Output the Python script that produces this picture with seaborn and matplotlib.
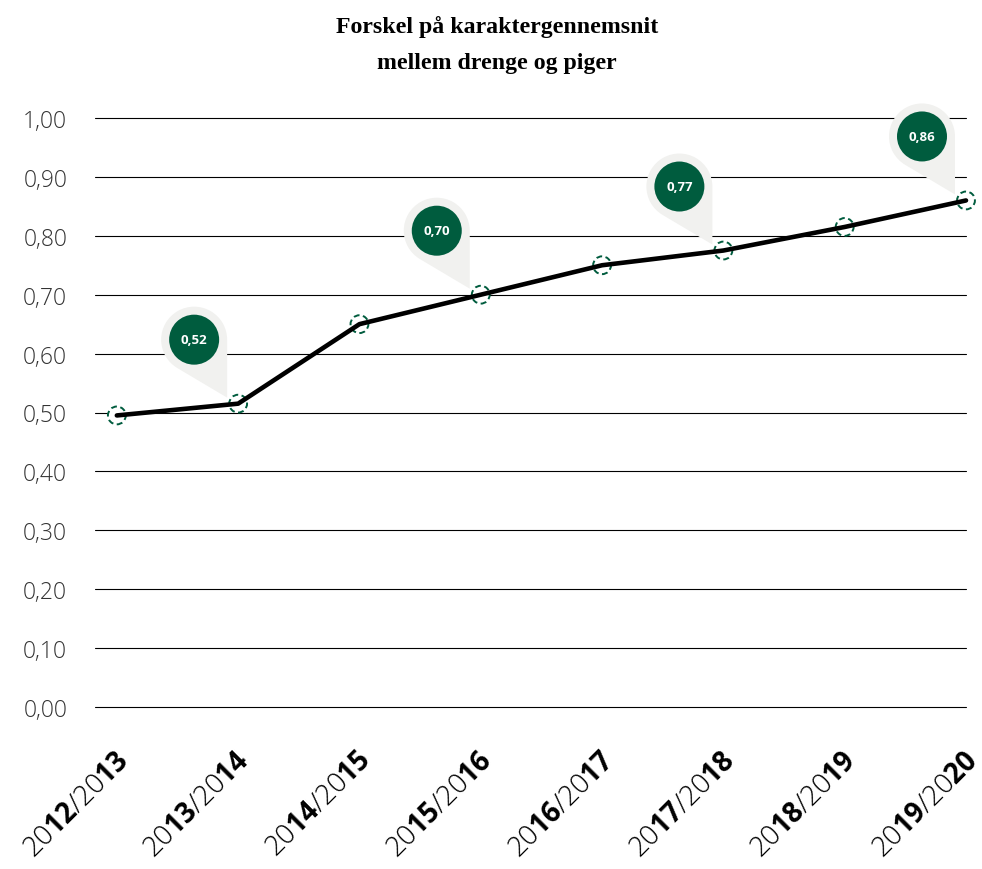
import numpy as np
import pandas as pd
import matplotlib
matplotlib.use("Agg")
import matplotlib.pyplot as plt
import seaborn as sns
from matplotlib.path import Path
from matplotlib.patches import PathPatch, Circle
import matplotlib.transforms as mtransforms

# ---- data ----
seasons = ["2012/2013", "2013/2014", "2014/2015", "2015/2016",
           "2016/2017", "2017/2018", "2018/2019", "2019/2020"]
values = [0.495, 0.515, 0.65, 0.70, 0.75, 0.775, 0.815, 0.86]
callout_idx = [1, 3, 5, 7]
callout_labels = ["0,52", "0,70", "0,77", "0,86"]
yticks = [0.0, 0.1, 0.2, 0.3, 0.4, 0.5, 0.6, 0.7, 0.8, 0.9, 1.0]
ytick_labels = ["0,00", "0,10", "0,20", "0,30", "0,40", "0,50",
                "0,60", "0,70", "0,80", "0,90", "1,00"]
title_lines = ["Forskel på karaktergennemsnit", "mellem drenge og piger"]

GREEN = "#005c3e"
PIN_GREY = "#f1f1ef"

sns.set_style("white")
plt.rcParams["font.family"] = ["Open Sans", "DejaVu Sans"]
plt.rcParams["mathtext.fontset"] = "custom"
plt.rcParams["mathtext.bf"] = "Open Sans:bold"
plt.rcParams["mathtext.rm"] = "Open Sans:light"

fig = plt.figure(figsize=(9.82, 8.70), dpi=100)
ax = fig.add_axes([95 / 982, 1 - 708 / 870, (966 - 95) / 982, (708 - 119) / 870])

df = pd.DataFrame({"season": seasons, "x": np.arange(len(seasons)), "value": values})

sns.scatterplot(data=df, x="x", y="value", ax=ax, s=165, color="white",
                edgecolor=GREEN, linewidth=1.4, linestyle=(0, (3.0, 1.8)),
                zorder=3, clip_on=False, legend=False)
sns.lineplot(data=df, x="x", y="value", ax=ax, color="black", linewidth=3.3,
             zorder=4, clip_on=False, legend=False)

ax.set_xlim(-0.18, 7.0)
ax.set_ylim(0, 1.0)
ax.set_yticks(yticks)
ax.set_yticklabels(ytick_labels, fontsize=16.5, fontweight="light", color="#333333")
ax.yaxis.grid(True, color="black", linewidth=0.8)
ax.xaxis.grid(False)
for gl in ax.get_ygridlines():
    gl.set_clip_on(False)
ax.set_axisbelow(True)
for s in ax.spines.values():
    s.set_visible(False)

def mixed_label(s):
    a, b = s.split("/")
    return r"%s$\mathbf{%s}$/%s$\mathbf{%s}$" % (a[:2], a[2:], b[:2], b[2:])

ax.set_xticks(df["x"])
ax.set_xticklabels([mixed_label(s) for s in seasons], rotation=45, ha="right",
                   va="center", rotation_mode="anchor", fontsize=20,
                   fontweight="light", color="black")
ax.tick_params(axis="x", length=0, pad=35)
ax.tick_params(axis="y", length=0, pad=20)
offset = mtransforms.ScaledTranslation(8 / 100, 0, fig.dpi_scale_trans)
for lbl in ax.get_xticklabels():
    lbl.set_transform(lbl.get_transform() + offset)
ax.set_xlabel("")
ax.set_ylabel("")

# ---- callout pins (pixel geometry around data point) ----
r_out, r_in = 33, 25
cx, cy = -44, 64
tip = np.array([-11, 6])
d = np.hypot(tip[0] - cx, tip[1] - cy)
theta = np.degrees(np.arctan2(tip[1] - cy, tip[0] - cx))
alpha = np.degrees(np.arccos(r_out / d))
arc = Path.arc(theta + alpha, theta - alpha + 360)
verts = np.vstack([arc.vertices * r_out + [cx, cy], tip, [0, 0]])
codes = list(arc.codes) + [Path.LINETO, Path.CLOSEPOLY]
pin_path = Path(verts, codes)

for i, lab in zip(callout_idx, callout_labels):
    xi, yi = df["x"][i], df["value"][i]
    trans = mtransforms.Affine2D() + mtransforms.ScaledTranslation(xi, yi, ax.transData)
    ax.add_patch(PathPatch(pin_path, transform=trans, facecolor=PIN_GREY,
                           edgecolor="none", zorder=5, clip_on=False))
    ax.add_patch(Circle((cx, cy), r_in, transform=trans, facecolor=GREEN,
                        edgecolor="none", zorder=6, clip_on=False))
    ax.annotate(lab, xy=(xi, yi), xytext=(cx, cy), textcoords="offset pixels",
                ha="center", va="center", color="white", fontsize=9.5,
                fontweight="bold", zorder=7, annotation_clip=False)

# ---- title ----
for k, line in enumerate(title_lines):
    fig.text(0.506, 1 - (27 + 37 * k) / 870, line, ha="center", va="center",
             family="Liberation Serif", fontweight="bold", fontsize=17.2, color="black")

fig.savefig("out.png", dpi=100)
